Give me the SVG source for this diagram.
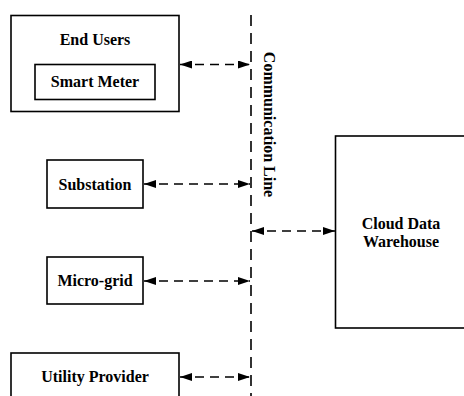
<svg xmlns="http://www.w3.org/2000/svg" width="464" height="396" viewBox="0 0 464 396">
<style>
.box{fill:#fff;stroke:#000;stroke-width:1.6}
.t{font-family:"Liberation Serif","Times New Roman",serif;font-weight:bold;font-size:16px;fill:#000;text-anchor:middle}
.c{fill:none;stroke:#000;stroke-width:1.6;stroke-dasharray:9 6}
.v{fill:none;stroke:#000;stroke-width:1.6;stroke-dasharray:11 7}
</style>
<defs>
<marker id="ah" viewBox="0 0 12 8" refX="12" refY="4" markerWidth="12" markerHeight="8" markerUnits="userSpaceOnUse" orient="auto-start-reverse">
<path d="M0,0 L12,4 L0,8 Z" fill="#000"/>
</marker>
</defs>
<rect width="464" height="396" fill="#fff"/>
<g id="end-users">
<rect class="box" x="11" y="15.5" width="168" height="96"/>
<text class="t" x="95" y="45">End Users</text>
</g>
<g id="smart-meter">
<rect class="box" x="35" y="64.5" width="120" height="35"/>
<text class="t" x="95" y="87">Smart Meter</text>
</g>
<g id="substation">
<rect class="box" x="47" y="160" width="96" height="48"/>
<text class="t" x="95" y="189.5">Substation</text>
</g>
<g id="micro-grid">
<rect class="box" x="47" y="257" width="96" height="47"/>
<text class="t" x="95" y="286">Micro-grid</text>
</g>
<g id="utility-provider">
<rect class="box" x="11" y="353" width="168" height="50"/>
<text class="t" x="95" y="382">Utility Provider</text>
</g>
<g id="cloud-data-warehouse">
<rect class="box" x="335.5" y="136" width="135" height="192"/>
<text class="t" x="401" y="228.5">Cloud Data</text>
<text class="t" x="401" y="247">Warehouse</text>
</g>
<g id="communication-line">
<text class="t" transform="translate(263.5,124.5) rotate(90)">Communication Line</text>
</g>
<g id="connectors">
<line class="v" x1="251" y1="15" x2="251" y2="396"/>
<line class="c" x1="180" y1="64.5" x2="250" y2="64.5" marker-start="url(#ah)" marker-end="url(#ah)"/>
<line class="c" x1="144" y1="184" x2="250" y2="184" marker-start="url(#ah)" marker-end="url(#ah)"/>
<line class="c" x1="144" y1="281" x2="250" y2="281" marker-start="url(#ah)" marker-end="url(#ah)"/>
<line class="c" x1="180" y1="377" x2="250" y2="377" marker-start="url(#ah)" marker-end="url(#ah)"/>
<line class="c" x1="252" y1="231" x2="335" y2="231" marker-start="url(#ah)" marker-end="url(#ah)"/>
</g>
</svg>
